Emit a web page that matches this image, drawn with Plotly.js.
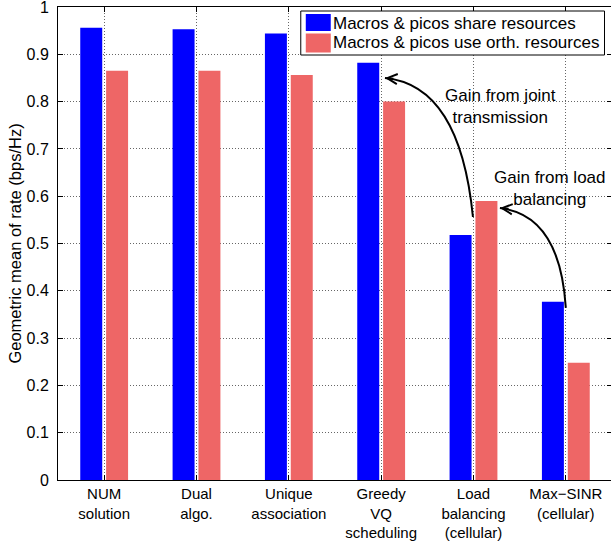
<!DOCTYPE html>
<html>
<head>
<meta charset="utf-8">
<script src="https://cdn.plot.ly/plotly-3.0.1.min.js"></script>
<style>
  html, body { margin: 0; padding: 0; overflow: hidden; background: #fff; }
  #chart { width: 620px; height: 544px; }
</style>
</head>
<body>
<div id="chart"></div>
<script>
// Schemes compared (one group of bars per scheme)
const categories = [
  "NUM<br>solution",
  "Dual<br>algo.",
  "Unique<br>association",
  "Greedy<br>VQ<br>scheduling",
  "Load<br>balancing<br>(cellular)",
  "Max\u2212SINR<br>(cellular)"
];
const seriesNames = [
  "Macros & picos share resources",
  "Macros & picos use orth. resources"
];
const seriesColors = ["#0000FF", "#EE6666"];
// Geometric mean of rate (bps/Hz)
const shareValues = [0.956, 0.953, 0.944, 0.882, 0.518, 0.377];
const orthValues  = [0.865, 0.865, 0.856, 0.800, 0.590, 0.248];
const yTickValues = [0, 0.1, 0.2, 0.3, 0.4, 0.5, 0.6, 0.7, 0.8, 0.9, 1];

const xIndex = categories.map((_, i) => i);
const FONT = "Liberation Sans, Arial, Helvetica, sans-serif";

// Figure geometry (pixels) and helpers to place the boxed key in paper units
const W = 620, H = 544;
const M = { l: 58, r: 7.5, t: 7, b: 64 };
const plotW = W - M.l - M.r, plotH = H - M.t - M.b;
const px = v => (v - M.l) / plotW;
const py = v => 1 - (v - M.t) / plotH;

const traces = [
  { type: "bar", name: seriesNames[0], x: xIndex, y: shareValues,
    marker: { color: seriesColors[0], line: { width: 0 } } },
  { type: "bar", name: seriesNames[1], x: xIndex, y: orthValues,
    marker: { color: seriesColors[1], line: { width: 0 } } }
];

// Boxed key in the upper right corner, drawn over the bars
const keyBox = { x0: 301, x1: 605, y0: 11, y1: 55 };
const keyRows = [
  { sy0: 14, sy1: 31, ty: 23 },
  { sy0: 33.5, sy1: 52.5, ty: 43 }
];
const keyShapes = [
  { type: "rect", xref: "paper", yref: "paper", layer: "above",
    x0: px(keyBox.x0), x1: px(keyBox.x1), y0: py(keyBox.y1), y1: py(keyBox.y0),
    fillcolor: "#fff", line: { color: "#000", width: 1 } }
].concat(keyRows.map((r, i) => ({
  type: "rect", xref: "paper", yref: "paper", layer: "above",
  x0: px(306), x1: px(331), y0: py(r.sy1), y1: py(r.sy0),
  fillcolor: seriesColors[i], line: { width: 0 }
})));
const keyLabels = keyRows.map((r, i) => ({
  xref: "paper", yref: "paper", x: px(331), y: py(r.ty),
  xanchor: "left", yanchor: "middle", showarrow: false,
  text: seriesNames[i], font: { family: FONT, size: 17, color: "#000" }
}));

const GRID_DASH = "1px,2px";

const layout = {
  width: W, height: H,
  margin: M,
  paper_bgcolor: "#fff", plot_bgcolor: "#fff",
  font: { family: FONT, size: 16, color: "#000" },
  barmode: "group",
  bargap: 0.44,
  bargroupgap: 0.15,
  showlegend: false,
  xaxis: {
    type: "linear", range: [-0.5, 5.5],
    tickvals: xIndex, ticktext: categories,
    tickfont: { family: FONT, size: 15 },
    ticks: "inside", ticklen: 5, tickcolor: "#000",
    showline: true, linecolor: "#000", linewidth: 1, mirror: "ticks",
    showgrid: true, gridcolor: "#666", griddash: GRID_DASH, gridwidth: 1,
    zeroline: false, ticklabelstandoff: 0, ticklabeloverflow: "allow"
  },
  yaxis: {
    range: [0, 1], tickvals: yTickValues,
    tickfont: { family: FONT, size: 16 },
    ticks: "inside", ticklen: 5, tickcolor: "#000",
    showline: true, linecolor: "#000", linewidth: 1, mirror: "ticks",
    showgrid: true, gridcolor: "#666", griddash: GRID_DASH, gridwidth: 1,
    zeroline: false, ticklabelstandoff: 5, ticklabeloverflow: "allow",
    title: { text: "Geometric mean of rate (bps/Hz)", font: { family: FONT, size: 16.5 }, standoff: 0 }
  },
  shapes: [
    // curved connector: Load balancing (share) -> Greedy VQ scheduling (share)
    { type: "path", xref: "x", yref: "y",
      path: "M 3.994,0.556 Q 3.853,0.835 3.041,0.850",
      line: { color: "#000", width: 2 } },
    // curved connector: Max-SINR (share) -> Load balancing (orth.)
    { type: "path", xref: "x", yref: "y",
      path: "M 5.0,0.364 Q 4.935,0.5605 4.286,0.575",
      line: { color: "#000", width: 2 } }
  ].concat(keyShapes),
  annotations: [
    { x: 3.041, y: 0.850, xref: "x", yref: "y", ax: 3.149, ay: 0.848, axref: "x", ayref: "y",
      text: "", showarrow: true, arrowhead: 5, arrowsize: 1, arrowwidth: 2, arrowcolor: "#000", standoff: 0 },
    { x: 4.286, y: 0.575, xref: "x", yref: "y", ax: 4.394, ay: 0.573, axref: "x", ayref: "y",
      text: "", showarrow: true, arrowhead: 5, arrowsize: 1, arrowwidth: 2, arrowcolor: "#000", standoff: 0 },
    { x: 4.297, y: 0.789, xref: "x", yref: "y", showarrow: false,
      text: "Gain from joint<br>transmission", align: "center",
      font: { family: FONT, size: 17, color: "#000" } },
    { x: 4.827, y: 0.617, xref: "x", yref: "y", showarrow: false,
      text: "Gain from load<br>balancing", align: "center",
      font: { family: FONT, size: 17, color: "#000" } }
  ].concat(keyLabels)
};

Plotly.newPlot("chart", traces, layout, { displayModeBar: false, staticPlot: true });
</script>
</body>
</html>
